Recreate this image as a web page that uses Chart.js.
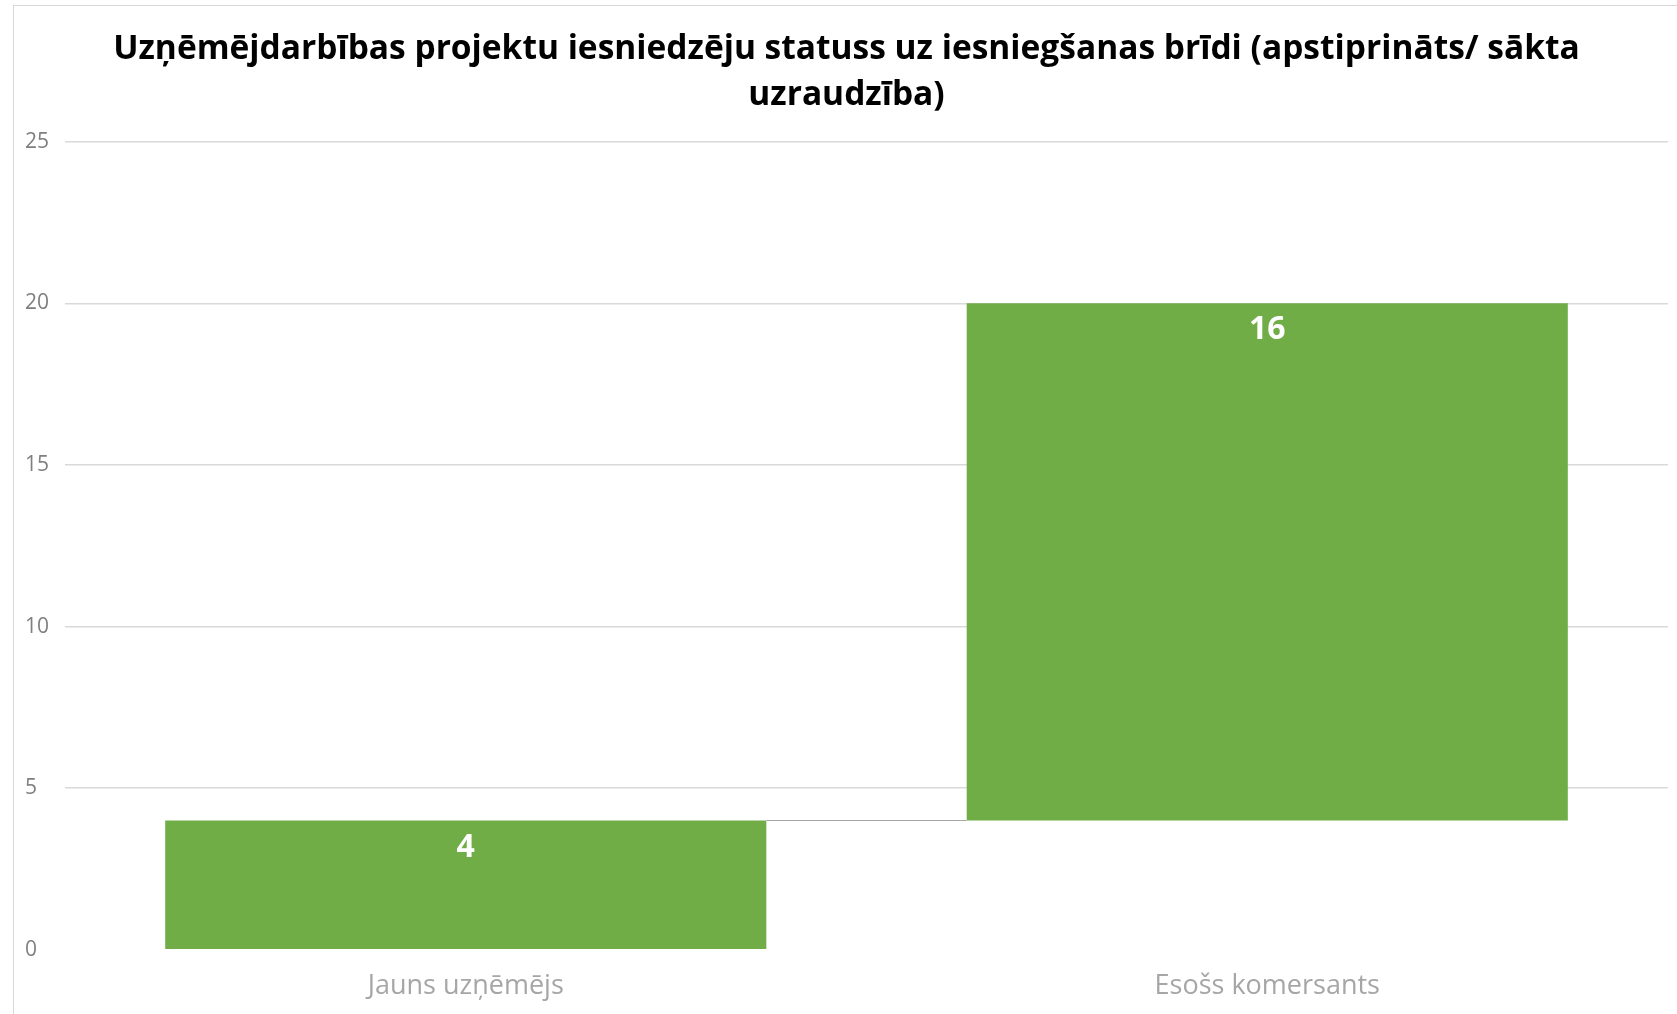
<!DOCTYPE html>
<html>
<head>
<meta charset="utf-8">
<script src="https://cdn.jsdelivr.net/npm/chart.js@4"></script>
<style>
	html, body { margin: 0; padding: 0; background: #ffffff; }
	#wrap { position: relative; width: 1677px; height: 1014px; }
</style>
</head>
<body>
<div id="wrap">
	<canvas id="statusChart" width="1677" height="1014"></canvas>
</div>
<script type="text/javascript">
	// chart data
	var categories = ['Jauns uzņēmējs', 'Esošs komersants'];
	var changes = [4, 16];
	var yTicks = [0, 5, 10, 15, 20, 25];
	var titleLines = [
		'Uzņēmējdarbības projektu iesniedzēju statuss uz iesniegšanas brīdi (apstiprināts/ sākta',
		'uzraudzība)'
	];

	// waterfall: each bar floats from the running total before it
	var floating = [];
	var runningTotal = 0;
	for (var i = 0; i < changes.length; i++) {
		floating.push([runningTotal, runningTotal + changes[i]]);
		runningTotal += changes[i];
	}

	var barGreen = '#70ad47';

	// frame round the chart like the office export has
	var framePlugin = {
		id: 'frame',
		beforeDraw: function(chart) {
			var ctx = chart.ctx;
			ctx.save();
			ctx.strokeStyle = '#d9d9d9';
			ctx.lineWidth = 1;
			ctx.strokeRect(13.5, 5.5, 1800, 1200);
			ctx.restore();
		}
	};

	// connector line between bars + value labels inside bars
	var waterfallPlugin = {
		id: 'waterfall',
		afterDatasetsDraw: function(chart) {
			var ctx = chart.ctx;
			var meta = chart.getDatasetMeta(0);
			var yScale = chart.scales.y;
			ctx.save();
			// connectors
			ctx.strokeStyle = '#a6a6a6';
			ctx.lineWidth = 1;
			for (var i = 0; i < meta.data.length - 1; i++) {
				var a = meta.data[i], b = meta.data[i + 1];
				var y = Math.round(yScale.getPixelForValue(floating[i][1])) + 0.5;
				ctx.beginPath();
				ctx.moveTo(a.x + a.width / 2, y);
				ctx.lineTo(b.x - b.width / 2, y);
				ctx.stroke();
			}
			// labels
			ctx.fillStyle = '#ffffff';
			ctx.font = 'bold 32px "Open Sans"';
			ctx.textAlign = 'center';
			ctx.textBaseline = 'middle';
			for (var j = 0; j < meta.data.length; j++) {
				var bar = meta.data[j];
				var top = yScale.getPixelForValue(floating[j][1]);
				ctx.fillText(String(changes[j]), bar.x, top + 27);
			}
			ctx.restore();
		}
	};

	var ctx = document.getElementById('statusChart').getContext('2d');
	var chart = new Chart(ctx, {
		type: 'bar',
		data: {
			labels: categories,
			datasets: [{
				data: floating,
				backgroundColor: barGreen,
				borderWidth: 0,
				categoryPercentage: 0.75,
				barPercentage: 1.0
			}]
		},
		options: {
			responsive: false,
			animation: false,
			devicePixelRatio: 1,
			layout: {
				padding: { left: 25, right: 9, top: 0, bottom: 0 }
			},
			plugins: {
				legend: { display: false },
				tooltip: { enabled: false },
				title: {
					display: true,
					text: titleLines,
					color: '#000000',
					font: { family: '"Open Sans"', size: 33.5, weight: 'bold', lineHeight: 1.37 },
					padding: { top: 27, bottom: 23 }
				}
			},
			scales: {
				x: {
					grid: { display: false },
					border: { display: false },
					ticks: {
						color: '#a6a6a6',
						padding: 16,
						font: { family: '"Open Sans"', size: 27, lineHeight: 0.9 }
					}
				},
				y: {
					min: 0,
					max: 25,
					afterBuildTicks: function(axis) {
						axis.ticks = yTicks.map(function(v) { return { value: v }; });
					},
					grid: {
						drawTicks: false,
						color: function(c) { return c.tick && c.tick.value === 0 ? 'rgba(0,0,0,0)' : '#d9d9d9'; },
						lineWidth: 1.5
					},
					border: { display: false },
					ticks: {
						color: '#7f7f7f',
						padding: 8,
						crossAlign: 'far',
						font: { family: '"Open Sans"', size: 21 }
					}
				}
			}
		},
		plugins: [framePlugin, waterfallPlugin]
	});
</script>
</body>
</html>
